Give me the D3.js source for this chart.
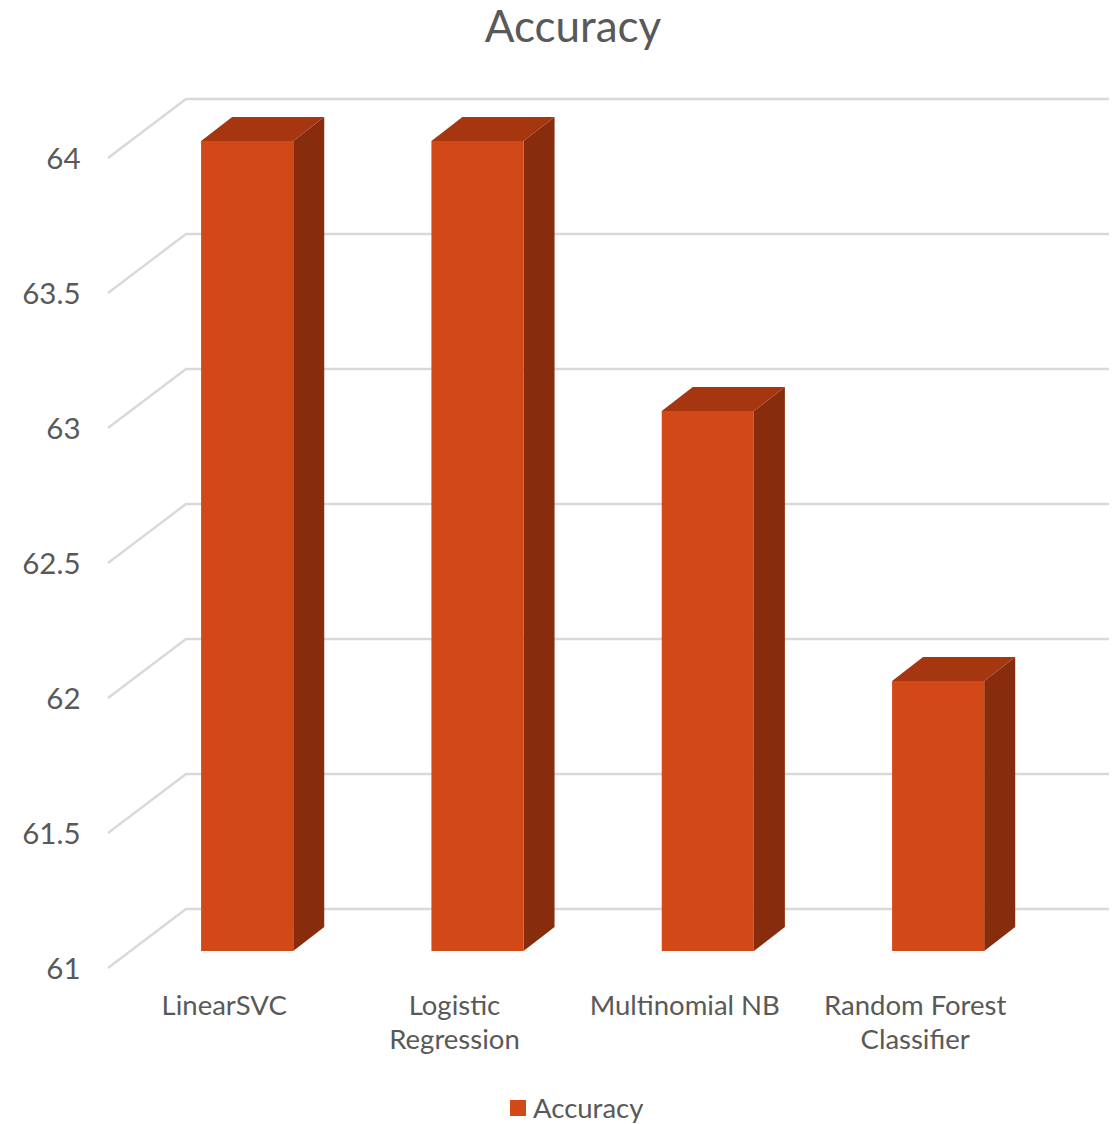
<!DOCTYPE html>
<html>
<head>
<meta charset="utf-8">
<script src="https://cdn.jsdelivr.net/npm/d3@7"></script>
<style>
  html, body { margin: 0; padding: 0; background: #fff; }
  svg { display: block; }
  text { font-family: Lato, "Open Sans", sans-serif; fill: #595959; }
</style>
</head>
<body>
<svg id="chart" width="1119" height="1124"></svg>
<script>
const categories = ["LinearSVC", "Logistic Regression", "Multinomial NB", "Random Forest Classifier"];
const categoryLines = [["LinearSVC"], ["Logistic", "Regression"], ["Multinomial NB"], ["Random Forest", "Classifier"]];
const accuracy = [64, 64, 63, 62];
const yTicks = [61, 61.5, 62, 62.5, 63, 63.5, 64];
const seriesName = "Accuracy";

const barFront = "#D34817";
const barTop = "#A5360F";
const barSide = "#872D0D";
const gridColor = "#D9D9D9";

const svg = d3.select("#chart");

// Bars stand on the front plane; the walls sit further back in the fake 3D box.
const y = d3.scaleLinear().domain([61, 64]).range([951, 141]);
const x = d3.scaleBand().domain(categories).range([132, 1053.3]).paddingInner(0.6).paddingOuter(0.3);

const barDepth = { dx: 31, dy: -24 };
const wall = { left: 186, right: 1109, shift: -42, floorDx: -78, floorDy: 59 };

// Back wall and side wall gridlines
const grid = svg.append("g")
  .attr("fill", "none").attr("stroke", gridColor).attr("stroke-width", 2.4);
grid.selectAll("path").data(yTicks).join("path")
  .attr("d", v => {
    const yb = y(v) + wall.shift;
    return d3.line()([
      [wall.left + wall.floorDx, yb + wall.floorDy],
      [wall.left, yb],
      [wall.right, yb]
    ]);
  });

// Value axis
const yAxis = svg.append("g")
  .attr("transform", "translate(80.5,18)")
  .call(d3.axisLeft(y).tickValues(yTicks).tickSize(0).tickPadding(0).tickFormat(d3.format("~g")));
yAxis.select(".domain").remove();
yAxis.selectAll("text").attr("font-size", 29.5).style("font-family", "Lato").attr("fill", "#595959");

// Extruded bars: side, top, then front face
const bars = svg.append("g").selectAll("g")
  .data(categories.map((c, i) => ({ c, v: accuracy[i] })))
  .join("g");

bars.append("path").attr("fill", barSide).attr("d", d => {
  const r = x(d.c) + x.bandwidth(), t = y(d.v), b = y(61);
  return d3.line()([[r, t], [r + barDepth.dx, t + barDepth.dy], [r + barDepth.dx, b + barDepth.dy], [r, b]]) + "Z";
});
bars.append("path").attr("fill", barTop).attr("d", d => {
  const l = x(d.c), r = l + x.bandwidth(), t = y(d.v);
  return d3.line()([[l, t], [l + barDepth.dx, t + barDepth.dy], [r + barDepth.dx, t + barDepth.dy], [r, t]]) + "Z";
});
bars.append("rect").attr("fill", barFront)
  .attr("x", d => x(d.c)).attr("y", d => y(d.v))
  .attr("width", x.bandwidth()).attr("height", d => y(61) - y(d.v));

// Category labels, centred under the floor rather than under the bar front
const labelShift = -23;
const xLabels = svg.append("g").selectAll("text")
  .data(categories)
  .join("text")
  .attr("text-anchor", "middle")
  .attr("font-size", 27.5)
  .attr("transform", d => `translate(${x(d) + x.bandwidth() / 2 + labelShift},1015)`);
xLabels.selectAll("tspan")
  .data((d, i) => categoryLines[i])
  .join("tspan")
  .attr("x", 0)
  .attr("y", (d, i) => i * 34)
  .text(d => d);

// Title
svg.append("text").attr("x", 573).attr("y", 42)
  .attr("text-anchor", "middle").attr("font-size", 44)
  .text(seriesName);

// Legend
svg.append("rect").attr("x", 510).attr("y", 1100).attr("width", 16).attr("height", 16).attr("fill", barFront);
svg.append("text").attr("x", 533).attr("y", 1118)
  .attr("font-size", 27.5).text(seriesName);
</script>
</body>
</html>
